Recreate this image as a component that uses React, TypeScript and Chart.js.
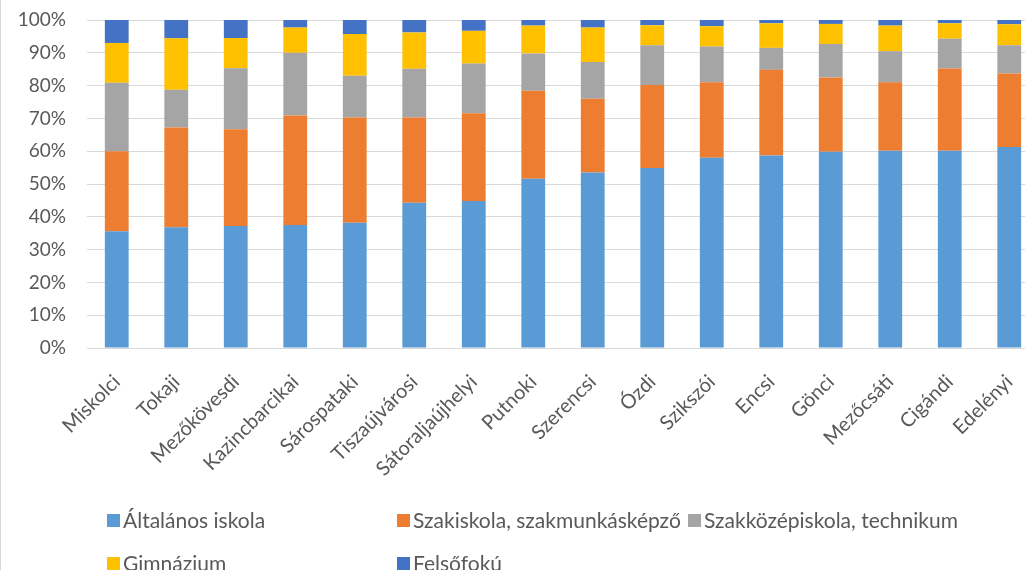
import React, { useEffect, useRef } from "react";
import { Chart, registerables } from "chart.js";

Chart.register(...registerables);

const categories = [
  "Miskolci", "Tokaji", "Mezőkövesdi", "Kazincbarcikai", "Sárospataki",
  "Tiszaújvárosi", "Sátoraljaújhelyi", "Putnoki", "Szerencsi", "Ózdi",
  "Szikszói", "Encsi", "Gönci", "Mezőcsáti", "Cigándi", "Edelényi",
];

const altalanos = [35.6, 36.8, 37.2, 37.5, 38.2, 44.3, 44.8, 51.6, 53.5, 54.9, 58.0, 58.7, 59.8, 60.1, 60.1, 61.3];
const szakiskola = [24.4, 30.4, 29.5, 33.4, 32.1, 26.0, 26.8, 26.8, 22.5, 25.3, 23.0, 26.1, 22.7, 20.9, 25.1, 22.4];
const szakkozep = [20.9, 11.5, 18.6, 19.1, 12.7, 14.8, 15.1, 11.4, 11.2, 12.1, 10.9, 6.7, 10.2, 9.5, 9.1, 8.6];
const gimnazium = [12.1, 15.7, 9.2, 7.7, 12.7, 11.1, 10.0, 8.5, 10.5, 6.1, 6.2, 7.5, 6.1, 7.8, 4.7, 6.4];
const felsofoku = [7.0, 5.6, 5.5, 2.3, 4.3, 3.8, 3.3, 1.7, 2.3, 1.6, 1.9, 1.0, 1.2, 1.7, 1.1, 1.3];

const seriesNames = [
  "Általános iskola",
  "Szakiskola, szakmunkásképző",
  "Szakközépiskola, technikum",
  "Gimnázium",
  "Felsőfokú",
];
const seriesColors = ["#5B9BD5", "#ED7D31", "#A5A5A5", "#FFC000", "#4472C4"];
const yTicks = [0, 10, 20, 30, 40, 50, 60, 70, 80, 90, 100];

const FONT = "Lato";
const TEXT_COLOR = "#595959";

const legendPlugin = {
  id: "gridLegend",
  afterDraw(chart: any) {
    const ctx = chart.ctx;
    ctx.save();
    // left border line
    ctx.fillStyle = "#d9d9d9";
    ctx.fillRect(0, 0, 1, chart.height);
    ctx.font = `21px ${FONT}`;
    ctx.textBaseline = "middle";
    ctx.textAlign = "left";
    const colX = [107, 397, 688];
    const rowY = [520, 563];
    chart.data.datasets.forEach((ds: any, i: number) => {
      const col = i < 3 ? i : i - 3;
      const row = i < 3 ? 0 : 1;
      const x = colX[col];
      const y = rowY[row];
      ctx.fillStyle = ds.backgroundColor;
      ctx.fillRect(x, y - 6, 13, 13);
      ctx.fillStyle = TEXT_COLOR;
      ctx.fillText(ds.label, x + 16, y + 1);
    });
    ctx.restore();
  },
};

export default function App() {
  const ref = useRef<HTMLCanvasElement | null>(null);
  useEffect(() => {
    if (!ref.current) return;
    const datasetsValues = [altalanos, szakiskola, szakkozep, gimnazium, felsofoku];
    const chart = new Chart(ref.current, {
      type: "bar",
      data: {
        labels: categories,
        datasets: datasetsValues.map((vals, i) => ({
          label: seriesNames[i],
          data: vals,
          backgroundColor: seriesColors[i],
          borderWidth: 0,
          barPercentage: 0.4,
          categoryPercentage: 1,
        })),
      },
      options: {
        animation: false,
        responsive: false,
        maintainAspectRatio: false,
        layout: { padding: { left: 0, right: 21, top: 20, bottom: 72 } },
        plugins: {
          legend: { display: false },
          tooltip: { enabled: false },
        },
        scales: {
          x: {
            stacked: true,
            grid: { display: false, drawTicks: false },
            border: { display: true, color: "#d9d9d9", width: 1 },
            ticks: {
              autoSkip: false,
              minRotation: 45,
              maxRotation: 45,
              padding: 22,
              color: TEXT_COLOR,
              font: { family: FONT, size: 20 },
            },
            afterFit(scale: any) {
              scale.height = 150;
            },
          },
          y: {
            stacked: true,
            min: 0,
            max: 100,
            afterBuildTicks(scale: any) {
              scale.ticks = yTicks.map((v) => ({ value: v }));
            },
            grid: { color: "#d9d9d9", drawTicks: false },
            border: { display: false },
            ticks: {
              padding: 21,
              color: TEXT_COLOR,
              font: { family: FONT, size: 19 },
              callback: (v: any) => `${v}%`,
            },
            afterFit(scale: any) {
              scale.width = 87;
              scale.paddingTop = 0;
              scale.paddingBottom = 0;
            },
          },
        },
      },
      plugins: [legendPlugin],
    });
    return () => chart.destroy();
  }, []);

  return (
    <div style={{ position: "fixed", left: 0, top: 0, width: 1060, height: 570, background: "#fff" }}>
      <canvas ref={ref} width={1060} height={570} style={{ width: 1060, height: 570 }} />
    </div>
  );
}
